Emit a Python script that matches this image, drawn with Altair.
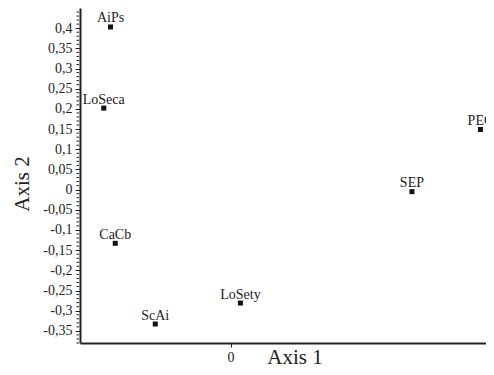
import altair as alt
import pandas as pd

names = ["AiPs", "LoSeca", "CaCb", "ScAi", "LoSety", "SEP", "PEC"]
axis1 = [-0.303, -0.320, -0.291, -0.190, 0.025, 0.458, 0.631]
axis2 = [0.403, 0.202, -0.133, -0.333, -0.281, -0.005, 0.149]

x_ticks = [0]
y_major = [-0.35, -0.3, -0.25, -0.2, -0.15, -0.1, -0.05, 0,
           0.05, 0.1, 0.15, 0.2, 0.25, 0.3, 0.35, 0.4]
y_minor = [round(-0.38 + i * 0.01, 2) for i in range(84)
           if round((-0.38 + i * 0.01) * 100) % 5 != 0]

df = pd.DataFrame({"name": names, "a1": axis1, "a2": axis2})
minor_df = pd.DataFrame({"v": y_minor})

FONT = "Liberation Serif"
INK = "#222"
fmt = "replace(replace(format(datum.value, '.2~f'), '.', ','), '\u2212', '-')"

xscale = alt.Scale(domain=[-0.38, 0.645], nice=False, zero=False)
yscale = alt.Scale(domain=[-0.38, 0.45], nice=False, zero=False)

xaxis = alt.Axis(title="Axis 1", values=x_ticks, grid=False, domainWidth=2,
                 domainColor=INK, tickColor=INK, tickSize=4, tickWidth=1,
                 labelExpr=fmt, labelPadding=3, labelFont=FONT, labelFontSize=14,
                 labelColor=INK,
                 titleFont=FONT, titleFontSize=21, titleFontWeight="normal",
                 titleColor=INK, titleX=214.5, titleY=20, titleBaseline="alphabetic",
                 titleAlign="center")
yaxis = alt.Axis(title="Axis 2", values=y_major, grid=False, domainWidth=2,
                 domainColor=INK, tickColor=INK, tickWidth=1, tickSize=5,
                 labelExpr=fmt, labelPadding=3, labelFont=FONT, labelFontSize=14,
                 labelColor=INK, labelOverlap=False, labelBound=False, labelFlush=False,
                 titleFont=FONT, titleFontSize=21, titleFontWeight="normal",
                 titleColor=INK, titleX=-52, titleY=175.5, titleBaseline="alphabetic",
                 titleAlign="center", titleAngle=-90)

base = alt.Chart(df)
pts = base.mark_square(size=25, color="#111", opacity=1).encode(
    x=alt.X("a1:Q", scale=xscale, axis=xaxis), y=alt.Y("a2:Q", scale=yscale, axis=yaxis))
txt = base.mark_text(font=FONT, fontSize=14, baseline="alphabetic", dy=-4.5, color=INK).encode(
    x=alt.X("a1:Q", scale=xscale, axis=xaxis), y=alt.Y("a2:Q", scale=yscale, axis=yaxis),
    text="name:N")
minor = alt.Chart(minor_df).mark_rule(color=INK, strokeWidth=1).encode(
    y=alt.Y("v:Q", scale=yscale, axis=yaxis), x=alt.value(-1), x2=alt.value(-3.5))

chart = alt.layer(pts, txt, minor).properties(
    width=406, height=335,
    autosize=alt.AutoSizeParams(type="none"),
    padding={"left": 72, "top": 0, "right": 0, "bottom": 24},
).configure_view(stroke=None)

chart.save("out.html", embed_options={"renderer": "svg", "actions": False})
